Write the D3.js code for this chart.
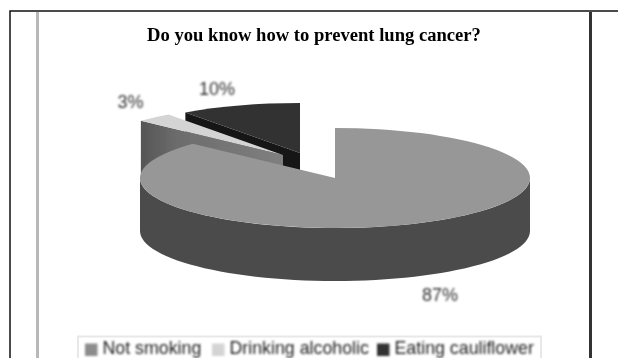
<!DOCTYPE html>
<html><head><meta charset="utf-8">
<script src="https://cdn.jsdelivr.net/npm/d3@7"></script>
<style>html,body{margin:0;padding:0;background:#fff}svg{display:block}</style>
</head><body><svg id="c" width="618" height="358"></svg>
<script>
const categories = ["Not smoking", "Drinking alcoholic", "Eating cauliflower"];
const values = [87, 3, 10];
const valueLabels = ["87%", "3%", "10%"];
const topColors = ["#979797", "#d4d4d4", "#333333"];

const svg = d3.select("#c");
const defs = svg.append("defs");
function blur(id,s){
  defs.append("filter").attr("id",id).attr("x","-5%").attr("y","-10%").attr("width","110%").attr("height","120%")
    .append("feGaussianBlur").attr("stdDeviation",s);
}
blur("soft",0.55); blur("softer",0.9); blur("faint",0.3);
const cutG = defs.append("linearGradient").attr("id","cut");
[[0,"#555555"],[0.25,"#6c6c6c"],[1,"#7f7f7f"]].forEach(s=>cutG.append("stop").attr("offset",s[0]).attr("stop-color",s[1]));

// page frame
const frame = svg.append("g");
frame.append("path").attr("d","M10,358V11H618").attr("fill","none").attr("stroke","#111").attr("stroke-width",1.5);
frame.append("line").attr("x1",37.5).attr("x2",37.5).attr("y1",12).attr("y2",358).attr("stroke","#b8b8b8").attr("stroke-width",3);
frame.append("line").attr("x1",590.5).attr("x2",590.5).attr("y1",12).attr("y2",358).attr("stroke","#333").attr("stroke-width",3);

svg.append("text").attr("x",314).attr("y",41).attr("text-anchor","middle")
  .attr("font-family","Liberation Serif").attr("font-weight","bold").attr("font-size",18.6).attr("fill","#000")
  .attr("filter","url(#faint)")
  .text("Do you know how to prevent lung cancer?");

// pie geometry
const rx = 195, ry = 50, depth = 53;
const slices = d3.pie().sort(null).value(d=>d)(values);
const centers = [[335,178],[283,155],[300,153]];
const arc = d3.arc().innerRadius(0).outerRadius(rx);
const pt = (c,a,dy=0)=>[c[0]+rx*Math.sin(a), c[1]-ry*Math.cos(a)+dy];
const line = d3.line();

const chart = svg.append("g").attr("filter","url(#soft)");
function cutFace(g,i,a,fill){
  const c = centers[i], p = pt(c,a);
  g.append("path").attr("d",line([c,p,[p[0],p[1]+depth],[c[0],c[1]+depth]])+"Z").attr("fill",fill);
}
function topFace(g,i){
  g.append("path").attr("transform",`translate(${centers[i][0]},${centers[i][1]}) scale(1,${ry/rx})`)
   .attr("d",arc(slices[i])).attr("fill",topColors[i]);
}
// dark slice, then light slice, then the main slice in front
const dark = chart.append("g");
cutFace(dark,2,slices[2].startAngle,"#141414");
topFace(dark,2);
const light = chart.append("g");
cutFace(light,1,slices[1].startAngle,"url(#cut)");
topFace(light,1);
const main = chart.append("g");
const angles = d3.range(0,61).map(k=>Math.PI/2 + Math.PI*k/60);
const upper = angles.map(a=>pt(centers[0],a));
const lower = angles.map(a=>pt(centers[0],a,depth)).reverse();
main.append("path").attr("d",line(upper.concat(lower))+"Z").attr("fill","#4b4b4b");
topFace(main,0);

// value labels
const labelPos = [[440,301],[130.5,108],[217,95]];
values.forEach((v,i)=>{
  svg.append("text").attr("x",labelPos[i][0]).attr("y",labelPos[i][1]).attr("text-anchor","middle")
    .attr("font-family","Liberation Sans").attr("font-size",18).attr("fill","#333").attr("filter","url(#softer)")
    .text(valueLabels[i]);
});

// legend
const legend = svg.append("g");
legend.append("rect").attr("x",78).attr("y",336.5).attr("width",463).attr("height",30).attr("fill","#fff").attr("stroke","#e8e8e8").attr("stroke-width",2);
const legendX = d3.scaleOrdinal().domain(categories).range([85,212,377]);
const legendFill = ["#8c8c8c","#d4d4d4","#333333"];
const items = legend.append("g").attr("filter","url(#softer)");
categories.forEach((c,i)=>{
  const x = legendX(c);
  items.append("rect").attr("x",x).attr("y",343.5).attr("width",12.5).attr("height",12.5).attr("fill",legendFill[i]);
  items.append("text").attr("x",x+17.5).attr("y",354).attr("font-family","Liberation Sans").attr("font-size",17.8).attr("fill","#222").text(c);
});
</script></body></html>
